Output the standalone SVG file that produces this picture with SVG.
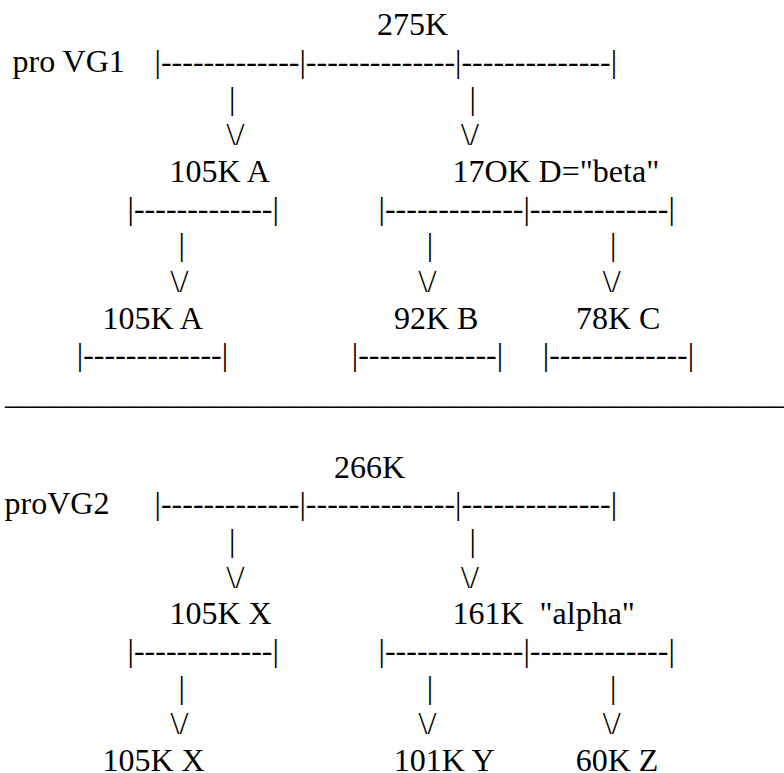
<svg xmlns="http://www.w3.org/2000/svg" width="784" height="773" viewBox="0 0 784 773" xml:space="preserve">
<style>
.t{font-family:"Liberation Serif","Times New Roman",serif;font-size:32px;fill:#000}
</style>
<rect width="784" height="773" fill="#fff"/>
<g id="connectors" class="t">
  <text x="154.5" y="71.95">|-------------|--------------|--------------|</text>
  <text x="229.1" y="108.6">|</text>
  <text x="469.5" y="108.6">|</text>
  <text x="226.6" y="145.25">\/</text>
  <text x="461.1" y="145.25">\/</text>
  <text x="127.5" y="218.55">|-------------|</text>
  <text x="378.5" y="218.55">|-------------|-------------|</text>
  <text x="178.5" y="255.2">|</text>
  <text x="426.8" y="255.2">|</text>
  <text x="610.1" y="255.2">|</text>
  <text x="170.6" y="291.85">\/</text>
  <text x="418.6" y="291.85">\/</text>
  <text x="602.8" y="291.85">\/</text>
  <text x="76.8" y="365.15">|-------------|</text>
  <text x="351.8" y="365.15">|-------------|</text>
  <text x="542.8" y="365.15">|-------------|</text>
  <text x="5" y="404">_________________________________________________</text>
  <text x="154.5" y="514.45">|-------------|--------------|--------------|</text>
  <text x="229.1" y="551.1">|</text>
  <text x="469.5" y="551.1">|</text>
  <text x="226.6" y="587.75">\/</text>
  <text x="461.1" y="587.75">\/</text>
  <text x="127.5" y="661.05">|-------------|</text>
  <text x="378.5" y="661.05">|-------------|-------------|</text>
  <text x="178.5" y="697.7">|</text>
  <text x="426.8" y="697.7">|</text>
  <text x="610.1" y="697.7">|</text>
  <text x="170.6" y="734.35">\/</text>
  <text x="418.6" y="734.35">\/</text>
  <text x="602.8" y="734.35">\/</text>
</g>
<g class="t">
  <g id="vg1-label"><text x="12.5" y="71.95">pro VG1</text></g>
  <g id="vg1-root"><text x="377" y="35.3">275K</text></g>
  <g id="vg1-a1"><text x="169.5" y="181.9">105K A</text></g>
  <g id="vg1-d"><text x="452.4" y="181.9">17OK D="beta"</text></g>
  <g id="vg1-a2"><text x="102.4" y="328.5">105K A</text></g>
  <g id="vg1-b"><text x="394" y="328.5">92K B</text></g>
  <g id="vg1-c"><text x="576" y="328.5">78K C</text></g>
  <g id="vg2-label"><text x="4.5" y="514.45">proVG2</text></g>
  <g id="vg2-root"><text x="334" y="477.8">266K</text></g>
  <g id="vg2-x1"><text x="169.5" y="624.4">105K X</text></g>
  <g id="vg2-alpha"><text x="452.4" y="624.4">161K &#160;"alpha"</text></g>
  <g id="vg2-x2"><text x="102.4" y="771">105K X</text></g>
  <g id="vg2-y"><text x="393.7" y="771">101K Y</text></g>
  <g id="vg2-z"><text x="575.7" y="771">60K Z</text></g>
</g>
</svg>
